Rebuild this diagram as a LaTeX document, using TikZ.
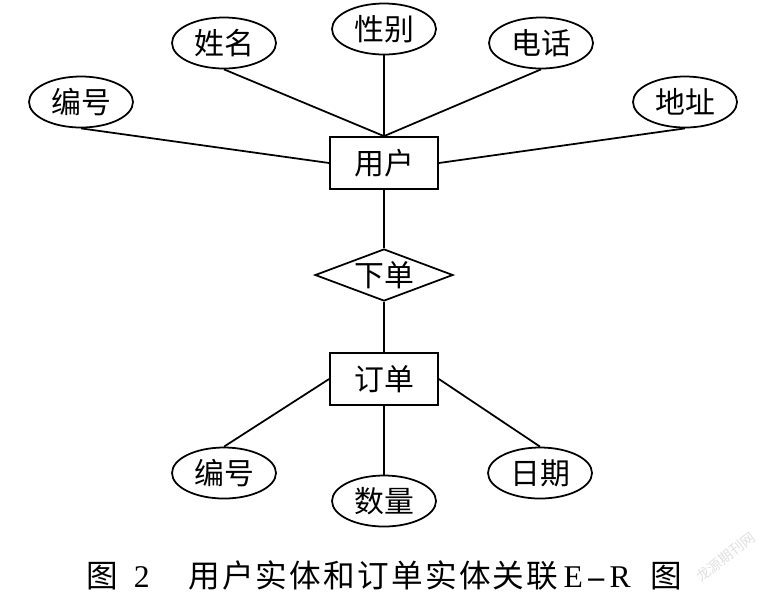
\documentclass[tikz,border=0pt]{standalone}
\usepackage{fontspec}
\setmainfont{Liberation Serif}
\newfontfamily\cjk{Noto Sans CJK SC}
\newfontfamily\cjkcap[LetterSpace=7]{Noto Sans CJK SC}
\usepackage{tikz}
\usetikzlibrary{positioning,shapes,calc}
\tikzset{entity/.style={rectangle,draw,line width=1pt,inner sep=0pt,
                        minimum width=2.16cm,minimum height=1.04cm,font=\cjk\fontsize{17}{19}\selectfont},
         attr/.style={ellipse,draw,line width=1pt,inner sep=0pt,
                        minimum width=2.08cm,minimum height=1.02cm,font=\cjk\fontsize{17}{19}\selectfont},
         rel/.style={diamond,draw,line width=1pt,inner sep=0pt,aspect=2.65,
                        minimum width=2.76cm,minimum height=1.04cm,font=\cjk\fontsize{17}{19}\selectfont},
         edge/.style={-, line width=1pt}
}

\begin{document}
\begin{tikzpicture}[x=0.2mm,y=-0.2mm]
    \useasboundingbox (0,0) rectangle (768,595);
    % user entity and its attributes
    \node[attr] (A1) at (81,102)  {编号};
    \node[attr] (A2) at (224,43)  {姓名};
    \node[attr] (A3) at (384,29)  {性别};
    \node[attr] (A4) at (541,43)  {电话};
    \node[attr] (A5) at (685,102) {地址};
    \node[entity] (U) at (384,163) {用户};
    % relation
    \node[rel] (R) at (384,275) {下单};
    % order entity and its attributes
    \node[entity] (O) at (384,379) {订单};
    \node[attr] (B1) at (224,473) {编号};
    \node[attr] (B2) at (384,501) {数量};
    \node[attr] (B3) at (540,473) {日期};

    \draw[edge] (A1.south) -- (U.west);
    \draw[edge] (A2.south) -- (U.north);
    \draw[edge] (A3) -- (U);
    \draw[edge] (A4.south) -- (U.north);
    \draw[edge] (A5.south) -- (U.east);
    \draw[edge] (U) -- (R);
    \draw[edge] (R) -- (O);
    \draw[edge] (O.west) -- (B1.north);
    \draw[edge] (O) -- (B2);
    \draw[edge] (O.east) -- (B3.north);

    % caption
    \node[font=\fontsize{18}{20}\selectfont] (T) at (384,575)
        {{\cjkcap 图}\hspace{9pt}2\hspace{22pt}{\cjkcap 用户实体和订单实体关联}\hspace{3pt}E\hspace{3pt}\textbf{--}\hspace{3pt}R\hspace{11pt}{\cjkcap 图}};
    \node[rotate=38,text=black!12,font=\cjk\fontsize{8}{9}\selectfont] (W) at (726,557) {龙源期刊网};
\end{tikzpicture}
\end{document}
